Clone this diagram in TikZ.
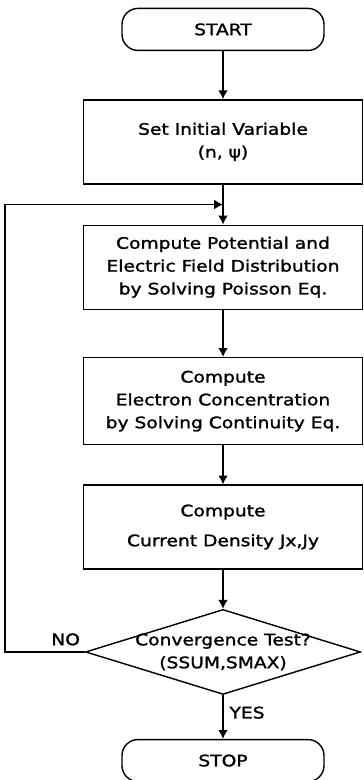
\documentclass[tikz,border=0pt]{standalone}
\usepackage{fontspec}
\setmainfont{DejaVu Sans}[FakeStretch=1.18, FakeBold=1.5]
\usetikzlibrary{matrix, arrows, arrows.meta, shapes.geometric}

\begin{document}
\begin{tikzpicture} [>={Latex[length=5pt, width=5.5pt]}, line width=0.8pt, font=\fontsize{9}{13}\selectfont,
  terminal/.style = {draw, rounded corners=0.32cm, minimum width=4.04cm, minimum height=0.84cm},
  process/.style = {draw, align=center, minimum width=5.58cm, minimum height=1.68cm},
  decision/.style = {draw, diamond, aspect=3.2, align=center, minimum width=5.5cm, minimum height=1.7cm, inner xsep=-0.3cm, inner ysep=-0.1cm}]
\useasboundingbox (0,0) rectangle (7.26,-15.6);
\matrix (m) [row sep = 0.74cm, inner sep = 0pt, anchor = north] at (4.46,-0.14) {
\node[terminal](start){START}; \\[0.22cm]
\node[process](init){Set Initial Variable\\(n, ψ)}; \\[0.06cm]
\node[process](poisson){Compute Potential and\\Electric Field Distribution\\by Solving Poisson Eq.}; \\[0.2cm]
\node[process, minimum height=1.74cm](cont){Compute\\Electron Concentration\\by Solving Continuity Eq.}; \\[0.04cm]
\node[process](curr){Compute\\[4pt]Current Density Jx,Jy}; \\[0.04cm]
\node[decision](test){Convergence Test?\\(SSUM,SMAX)}; \\[0.14cm]
\node[terminal](stop){STOP}; \\
};
\coordinate (rail) at (0.1,0);
\draw [->] (start) -- (init);
\draw [->] (init) -- coordinate[pos=.5](join) (poisson);
\draw [->] (poisson) -- (cont);
\draw [->] (cont) -- (curr);
\draw [->] (curr) -- (test);
\draw [->] (test) -- (stop) node[right, pos=.4]{YES};
\draw [->] (test.west) -- (test.west -| rail) node[above, pos=.24]{NO} |- (join);
\end{tikzpicture}
\end{document}
